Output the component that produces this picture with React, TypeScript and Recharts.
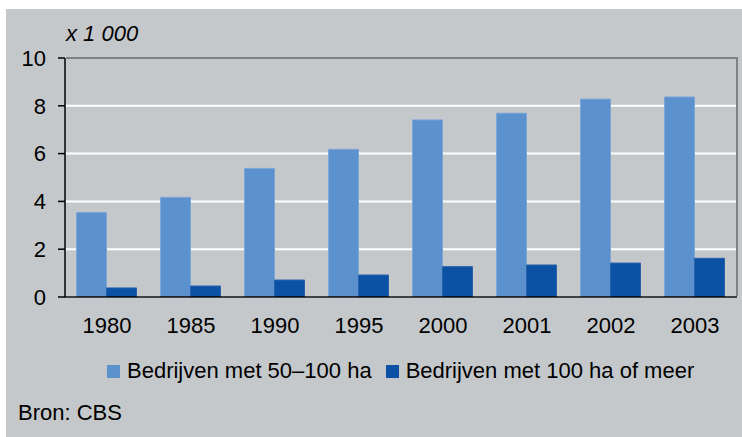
import React from 'react';
import { BarChart, Bar, XAxis, YAxis, CartesianGrid, Legend } from 'recharts';

const years = ['1980', '1985', '1990', '1995', '2000', '2001', '2002', '2003'];
const medium = [3.54, 4.17, 5.38, 6.18, 7.41, 7.69, 8.28, 8.37];
const large = [0.38, 0.46, 0.71, 0.92, 1.27, 1.34, 1.42, 1.62];
const yTicks = [0, 2, 4, 6, 8, 10];
const seriesNames = ['Bedrijven met 50–100 ha', 'Bedrijven met 100 ha of meer'];
const unitLabel = 'x 1 000';
const sourceLabel = 'Bron: CBS';

const colors = ['#5b91cd', '#0b51a4'];
const strokes = ['#7ca6d7', '#2a62aa'];
const FRAME = '#7f8386';
const FONT = '"Liberation Sans", Arial, Helvetica, sans-serif';
const FS = 22;

const W = 742;
const H = 437;
const MARGIN = { top: 58, right: 5, bottom: 110, left: 5 };
const Y_AXIS_W = 60;
const X_AXIS_H = 30;
const PLOT = {
  left: MARGIN.left + Y_AXIS_W,
  top: MARGIN.top,
  right: W - MARGIN.right,
  bottom: H - MARGIN.bottom - X_AXIS_H,
};
const FRAME_W = 2.5;

const data = years.map((y, i) => ({ year: y, medium: medium[i], large: large[i] }));

const LegendContent = () => (
  <div style={{ display: 'flex', alignItems: 'center', fontFamily: FONT, fontSize: FS, lineHeight: '26px', color: '#000', whiteSpace: 'nowrap' }}>
    {seriesNames.map((n, i) => (
      <div key={n} style={{ display: 'flex', alignItems: 'center', marginRight: i === 0 ? 14 : 0 }}>
        <span style={{ display: 'inline-block', width: 13, height: 13, background: colors[i], marginRight: 7 }} />
        <span>{n}</span>
      </div>
    ))}
  </div>
);

export default function App() {
  return (
    <div style={{ position: 'absolute', left: 0, top: 0, width: W, height: H, overflow: 'hidden' }}>
      <div style={{ position: 'absolute', left: 6, top: 9, width: 736, height: 428, background: '#c4c8cb' }} />
      <div style={{ position: 'absolute', left: 66, top: 23, fontFamily: FONT, fontSize: FS, lineHeight: '22px', fontStyle: 'italic', color: '#000', whiteSpace: 'nowrap' }}>
        {unitLabel}
      </div>
      <div style={{ position: 'absolute', left: 18, top: 402, fontFamily: FONT, fontSize: FS, lineHeight: '22px', color: '#000', whiteSpace: 'nowrap' }}>
        {sourceLabel}
      </div>
      <div style={{ position: 'absolute', left: 0, top: 0 }}>
        <BarChart
          width={W}
          height={H}
          data={data}
          margin={MARGIN}
          barGap={0}
          barCategoryGap="13.7%"
        >
          <CartesianGrid vertical={false} stroke="#ffffff" strokeWidth={2} />
          <XAxis
            dataKey="year"
            height={X_AXIS_H}
            axisLine={{ stroke: '#000', strokeWidth: 1.5 }}
            tickLine={false}
            tickMargin={14}
            tick={{ fill: '#000', fontSize: FS, fontFamily: FONT }}
            interval={0}
          />
          <YAxis
            domain={[0, 10]}
            ticks={yTicks}
            width={Y_AXIS_W}
            axisLine={{ stroke: '#000', strokeWidth: 1.5 }}
            tickLine={{ stroke: '#000', strokeWidth: 1.5 }}
            tickSize={7}
            tickMargin={12}
            tick={{ fill: '#000', fontSize: FS, fontFamily: FONT }}
            allowDataOverflow
          />
          <Legend
            layout="horizontal"
            verticalAlign="middle"
            align="center"
            content={<LegendContent />}
            wrapperStyle={{ left: 107, top: 358, width: 'auto', height: 26 }}
          />
          <Bar dataKey="medium" name={seriesNames[0]} fill={colors[0]} stroke={strokes[0]} strokeWidth={1} isAnimationActive={false} />
          <Bar dataKey="large" name={seriesNames[1]} fill={colors[1]} stroke={strokes[1]} strokeWidth={1} isAnimationActive={false} />
        </BarChart>
      </div>
      <div
        style={{
          position: 'absolute',
          left: PLOT.left + 1,
          top: PLOT.top - FRAME_W / 2,
          width: PLOT.right - PLOT.left - 1 + FRAME_W / 2,
          height: PLOT.bottom - PLOT.top + FRAME_W / 2 - 1,
          borderTop: `${FRAME_W}px solid ${FRAME}`,
          borderRight: `${FRAME_W}px solid ${FRAME}`,
          boxSizing: 'border-box',
          pointerEvents: 'none',
        }}
      />
    </div>
  );
}
